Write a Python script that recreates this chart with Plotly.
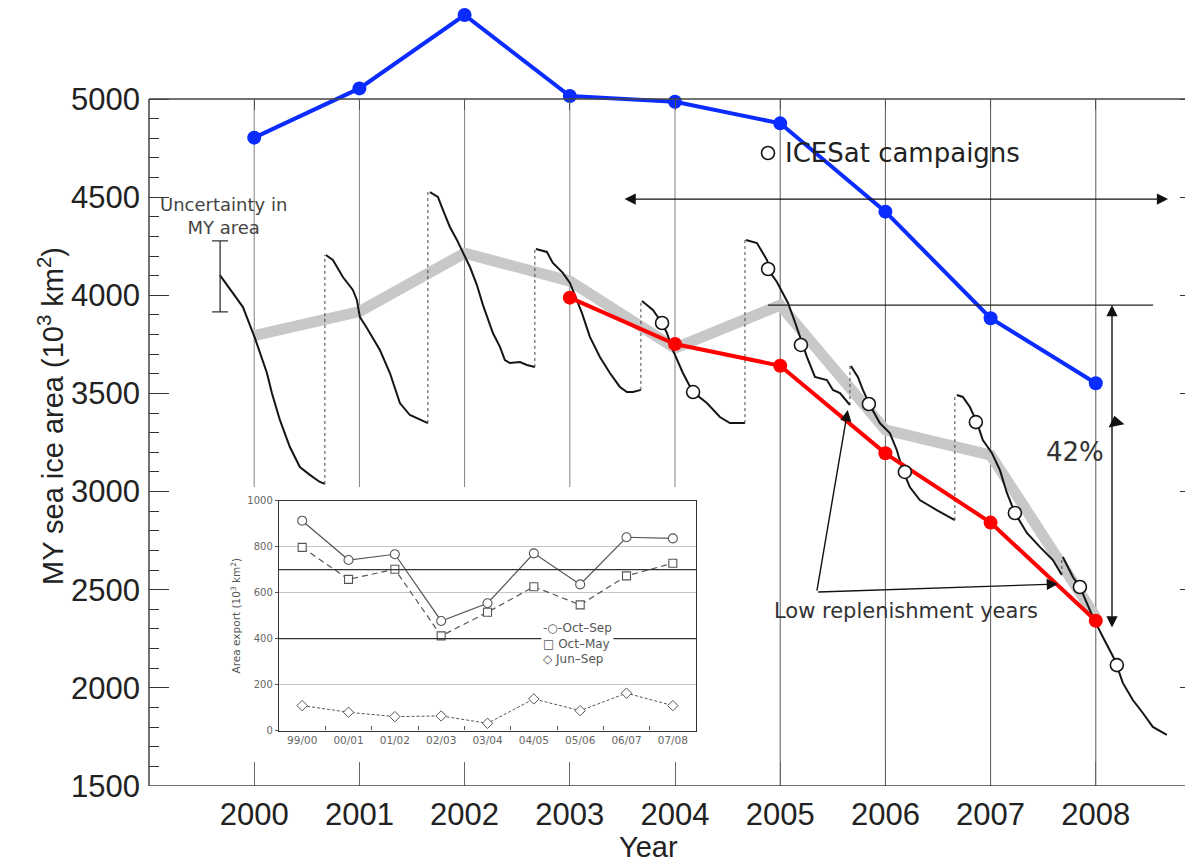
import plotly.graph_objects as go

# ---------------- data ----------------
years = [2000, 2001, 2002, 2003, 2004, 2005, 2006, 2007, 2008]
year_labels = [str(y) for y in years]

blue_area = [4803, 5054, 5428, 5015, 4986, 4876, 4426, 3883, 3552]
grey_area = [3795, 3917, 4215, 4072, 3731, 3950, 3314, 3186, 2361]
red_years = [2003, 2004, 2005, 2006, 2007, 2008]
red_area = [3988, 3752, 3641, 3195, 2842, 2342]

# seasonal MY area decline, one list per season (decimal year / 10^3 km^2)
season_dates = [
    [1999.674, 1999.798, 1999.893, 2000.007, 2000.121, 2000.168, 2000.244, 2000.339, 2000.434, 2000.529, 2000.624, 2000.672],
    [2000.681, 2000.748, 2000.843, 2000.938, 2000.976, 2001.005, 2001.071, 2001.195, 2001.290, 2001.385, 2001.480, 2001.575, 2001.651],
    [2001.670, 2001.746, 2001.794, 2001.860, 2001.927, 2001.984, 2002.051, 2002.117, 2002.174, 2002.269, 2002.336, 2002.383, 2002.431, 2002.526, 2002.592, 2002.668],
    [2002.678, 2002.782, 2002.839, 2002.934, 2003.001, 2003.067, 2003.115, 2003.191, 2003.286, 2003.381, 2003.476, 2003.543, 2003.600, 2003.676],
    [2003.686, 2003.790, 2003.876, 2003.923, 2003.980, 2004.075, 2004.170, 2004.303, 2004.427, 2004.522, 2004.665],
    [2004.674, 2004.779, 2004.874, 2004.922, 2004.969, 2005.074, 2005.140, 2005.207, 2005.254, 2005.330, 2005.444, 2005.501, 2005.568, 2005.663],
    [2005.672, 2005.738, 2005.786, 2005.852, 2005.947, 2006.042, 2006.108, 2006.165, 2006.232, 2006.327, 2006.488, 2006.660],
    [2006.679, 2006.736, 2006.803, 2006.869, 2006.926, 2007.012, 2007.088, 2007.155, 2007.231, 2007.345, 2007.468, 2007.592, 2007.677],
    [2007.687, 2007.782, 2007.849, 2007.972, 2008.067, 2008.181, 2008.257, 2008.352, 2008.447, 2008.542, 2008.675],
]
season_area = [
    [4103, 4012, 3940, 3782, 3604, 3502, 3365, 3227, 3125, 3085, 3049, 3039],
    [4205, 4180, 4093, 4027, 3976, 3889, 3833, 3721, 3604, 3451, 3390, 3365, 3349],
    [4526, 4501, 4435, 4348, 4282, 4215, 4144, 4052, 3951, 3808, 3737, 3670, 3655, 3660, 3645, 3635],
    [4236, 4221, 4165, 4114, 4063, 3976, 3910, 3788, 3686, 3604, 3533, 3507, 3507, 3518],
    [3971, 3925, 3859, 3808, 3721, 3604, 3507, 3451, 3380, 3349, 3349],
    [4282, 4266, 4180, 4103, 4068, 3961, 3864, 3757, 3686, 3584, 3568, 3518, 3502, 3441],
    [3640, 3584, 3518, 3441, 3349, 3298, 3212, 3110, 3023, 2957, 2906, 2855],
    [3492, 3482, 3431, 3354, 3263, 3197, 3110, 2993, 2891, 2789, 2718, 2651, 2575],
    [2667, 2565, 2514, 2361, 2259, 2142, 2025, 1938, 1872, 1801, 1760],
]

icesat_dates = [2003.877, 2004.172, 2004.885, 2005.197, 2005.843, 2006.185, 2006.860, 2007.231, 2007.849, 2008.200]
icesat_area = [3859, 3507, 4134, 3747, 3446, 3100, 3354, 2891, 2514, 2116]

uncert_date = 1999.676
uncert_center = 4096
uncert_half = 181

peak_area = 3950      # 2005 MY area reference level
low_area = 2300       # 2008 level used for the 42% drop

# inset: area export
export_seasons = ["99/00", "00/01", "01/02", "02/03", "03/04", "04/05", "05/06", "06/07", "07/08"]
export_oct_sep = [913, 742, 767, 477, 554, 771, 636, 841, 836]
export_oct_may = [797, 658, 702, 412, 515, 626, 547, 673, 728]
export_jun_sep = [109, 80, 61, 64, 32, 138, 87, 163, 109]

# ---------------- layout geometry ----------------
W, H = 1185, 864
ML, MB = 149, 78
X0 = 1999.0
X1 = 1999.0 + (W - ML) / 105.2
Y0, YTOP = 1500, 5000
Y1 = 5504.4
TOP_POS = (YTOP - Y0) / (Y1 - Y0)

AX_FONT = "Liberation Sans, Arial, sans-serif"
TXT_FONT = "DejaVu Sans, sans-serif"

fig = go.Figure()

# thick grey annual line
fig.add_trace(go.Scatter(x=years, y=grey_area, mode="lines",
                         line=dict(color="#c8c8c8", width=11), hoverinfo="skip"))

# seasonal curves and dotted season connectors
for i, (t, a) in enumerate(zip(season_dates, season_area)):
    fig.add_trace(go.Scatter(x=t, y=a, mode="lines",
                             line=dict(color="#151515", width=2), hoverinfo="skip"))
    if i + 1 < len(season_dates):
        fig.add_trace(go.Scatter(x=[t[-1], t[-1]], y=[a[-1], season_area[i + 1][0]],
                                 mode="lines", line=dict(color="#444", width=1, dash="dot"),
                                 hoverinfo="skip"))

# uncertainty bar
fig.add_trace(go.Scatter(x=[uncert_date], y=[uncert_center], mode="markers",
                         marker=dict(size=2, color="rgba(0,0,0,0)"),
                         error_y=dict(type="data", array=[uncert_half], symmetric=True,
                                      width=8, thickness=1.3, color="#333"),
                         hoverinfo="skip"))

# red and blue series
fig.add_trace(go.Scatter(x=red_years, y=red_area, mode="lines+markers",
                         line=dict(color="#ff0000", width=4),
                         marker=dict(color="#ff0000", size=14), hoverinfo="skip"))
fig.add_trace(go.Scatter(x=years, y=blue_area, mode="lines+markers",
                         line=dict(color="#0a2cff", width=4),
                         marker=dict(color="#0a2cff", size=14), hoverinfo="skip"))

# ICESat campaign markers
fig.add_trace(go.Scatter(x=icesat_dates, y=icesat_area, mode="markers",
                         marker=dict(symbol="circle", size=13, color="white",
                                     line=dict(color="#151515", width=1.6)),
                         hoverinfo="skip"))
fig.add_trace(go.Scatter(x=[2004.884], y=[4725], mode="markers",
                         marker=dict(symbol="circle", size=13, color="white",
                                     line=dict(color="#151515", width=1.6)),
                         hoverinfo="skip"))
# small arrowhead mark next to the 42% arrow
fig.add_trace(go.Scatter(x=[2008.19], y=[3352], mode="markers",
                         marker=dict(symbol="triangle-up", size=14, color="#111", angle=-12),
                         hoverinfo="skip"))

# axis helpers so the top and right tick rows render
fig.add_trace(go.Scatter(x=[None], y=[None], xaxis="x3", yaxis="y", hoverinfo="skip"))
fig.add_trace(go.Scatter(x=[None], y=[None], xaxis="x", yaxis="y3", hoverinfo="skip"))

# ---------------- inset traces ----------------
fig.add_trace(go.Scatter(x=export_seasons, y=export_oct_sep, xaxis="x2", yaxis="y2",
                         mode="lines+markers", line=dict(color="#555", width=1.2),
                         marker=dict(symbol="circle", size=9, color="white",
                                     line=dict(color="#555", width=1.1)),
                         hoverinfo="skip"))
fig.add_trace(go.Scatter(x=export_seasons, y=export_oct_may, xaxis="x2", yaxis="y2",
                         mode="lines+markers", line=dict(color="#555", width=1.2, dash="6px,4px"),
                         marker=dict(symbol="square", size=8, color="white",
                                     line=dict(color="#555", width=1.1)),
                         hoverinfo="skip"))
fig.add_trace(go.Scatter(x=export_seasons, y=export_jun_sep, xaxis="x2", yaxis="y2",
                         mode="lines+markers", line=dict(color="#555", width=1, dash="3px,2px"),
                         marker=dict(symbol="diamond", size=8, color="white",
                                     line=dict(color="#555", width=1)),
                         hoverinfo="skip"))

# ---------------- shapes ----------------
shapes = []
# vertical year lines
for y in years:
    bottom = 3023 if y <= 2004 else Y0
    shapes.append(dict(type="line", xref="x", yref="y", x0=y, x1=y, y0=bottom, y1=YTOP,
                       line=dict(color="#808080" if y <= 2004 else "#5a5a5a", width=1),
                       layer="below"))
# frame (open on the right, which lies past the page edge)
shapes.append(dict(type="line", xref="x domain", yref="y", x0=0, x1=1, y0=YTOP, y1=YTOP,
                   line=dict(color="#444", width=1.5)))
shapes.append(dict(type="line", xref="x domain", yref="y", x0=0, x1=1, y0=Y0, y1=Y0,
                   line=dict(color="#444", width=1.5)))
shapes.append(dict(type="line", xref="x domain", yref="y", x0=0, x1=0, y0=Y0, y1=YTOP,
                   line=dict(color="#444", width=1.5)))
# reference level from the 2005 peak
shapes.append(dict(type="line", xref="x", yref="y", x0=2004.884, x1=2008.545,
                   y0=peak_area, y1=peak_area, line=dict(color="#222", width=1.3)))
# inset reference lines
shapes.append(dict(type="line", xref="x2 domain", yref="y2", x0=0, x1=1, y0=700, y1=700,
                   line=dict(color="#333", width=1.3)))
shapes.append(dict(type="line", xref="x2 domain", yref="y2", x0=0, x1=1, y0=400, y1=400,
                   line=dict(color="#333", width=1.3)))

# ---------------- annotations ----------------
def arrow(xh, yh, xt, yt, both=False, size=1.6):
    return dict(x=xh, y=yh, ax=xt, ay=yt, xref="x", yref="y", axref="x", ayref="y",
                text="", showarrow=True, arrowhead=2, arrowsize=size, arrowwidth=1.4,
                arrowcolor="#111", arrowside="end+start" if both else "end", standoff=0,
                startstandoff=0)

annotations = [
    arrow(2008.687, 4490, 2003.506, 4490, both=True),
    arrow(2008.154, peak_area, 2008.154, low_area, both=True),
    arrow(2005.642, 3416, 2005.347, 2488),
    arrow(2007.640, 2529, 2005.347, 2488),
    dict(x=2005.027, y=4725, xref="x", yref="y", xanchor="left", yanchor="middle",
         text="ICESat campaigns", showarrow=False,
         font=dict(family=TXT_FONT, size=26, color="#222")),
    dict(x=2007.803, y=3202, xref="x", yref="y", text="42%", showarrow=False,
         font=dict(family=TXT_FONT, size=26, color="#333")),
    dict(x=2006.195, y=2392, xref="x", yref="y", text="Low replenishment years",
         showarrow=False, font=dict(family=TXT_FONT, size=21, color="#333")),
    dict(x=1999.704, y=4404, xref="x", yref="y", text="Uncertainty in<br>MY area",
         showarrow=False, align="center",
         font=dict(family=TXT_FONT, size=18, color="#444")),
    dict(x=-0.1139, y=0.4707, xref="paper", yref="paper", textangle=-90,
         text="MY sea ice area (10<sup>3</sup> km<sup>2</sup>)", showarrow=False,
         font=dict(family=AX_FONT, size=29, color="#222")),
    dict(x=0.4826, y=-0.077, xref="paper", yref="paper", text="Year", showarrow=False,
         yanchor="middle", font=dict(family=AX_FONT, size=29, color="#222")),
    dict(x=0.628, y=381, xref="x2 domain", yref="y2", xanchor="left", yanchor="middle",
         align="left", showarrow=False, bgcolor="white", borderpad=1,
         text="-○-Oct–Sep<br>□ Oct–May<br>◇ Jun–Sep",
         font=dict(family=TXT_FONT, size=12, color="#555")),
]

major_y = list(range(1500, 5001, 500))
minor_y = [v for v in range(1600, 5000, 100) if v % 500 != 0]

fig.update_layout(
    width=W, height=H, autosize=False,
    margin=dict(l=ML, r=0, t=0, b=MB, pad=0),
    paper_bgcolor="white", plot_bgcolor="white",
    showlegend=False,
    shapes=shapes, annotations=annotations,
    xaxis=dict(range=[X0, X1], tickmode="array", tickvals=years, ticktext=year_labels,
               ticks="inside", ticklen=24, tickwidth=1, tickcolor="#666",
               showgrid=False, zeroline=False, showline=False, automargin=False,
               tickfont=dict(family=AX_FONT, size=31, color="#222"),
               ticklabelstandoff=7, domain=[0, 1]),
    yaxis=dict(range=[Y0, Y1], tickmode="array", tickvals=major_y,
               ticktext=[str(v) for v in major_y],
               ticks="inside", ticklen=20, tickwidth=1.2, tickcolor="#333",
               minor=dict(tickmode="array", tickvals=minor_y, ticks="inside",
                          ticklen=10, tickwidth=1.2, tickcolor="#333", showgrid=False),
               showgrid=False, zeroline=False, showline=False, automargin=False,
               tickfont=dict(family=AX_FONT, size=31, color="#222"),
               ticklabelstandoff=8, domain=[0, 1]),
    xaxis3=dict(overlaying="x", anchor="free", position=TOP_POS, side="top",
                range=[X0, X1], tickmode="array", tickvals=years, ticks="inside",
                ticklen=10, tickwidth=1, tickcolor="#555", showticklabels=False,
                showgrid=False, zeroline=False, showline=False),
    yaxis3=dict(overlaying="y", anchor="free", position=1, side="right",
                range=[Y0, Y1], tickmode="array", tickvals=major_y, ticks="inside",
                ticklen=5, tickwidth=1.2, tickcolor="#333", showticklabels=False,
                showgrid=False, zeroline=False, showline=False),
    xaxis2=dict(domain=[0.1255, 0.528], anchor="y2", type="category",
                categoryorder="array", categoryarray=export_seasons,
                range=[-0.5, 8.5], tickson="boundaries", ticks="inside", ticklen=4,
                tickcolor="#555", showline=True, mirror=True, linecolor="#333",
                linewidth=1.4, showgrid=False, zeroline=False, automargin=False,
                tickfont=dict(family=TXT_FONT, size=10.5, color="#666")),
    yaxis2=dict(domain=[0.0704, 0.363], anchor="x2", range=[0, 1000],
                tickmode="array", tickvals=[0, 200, 400, 600, 800, 1000],
                ticks="outside", ticklen=3, tickcolor="#555",
                showline=True, mirror=True, linecolor="#333", linewidth=1.4,
                showgrid=True, gridcolor="#c4c4c4", gridwidth=1, zeroline=False,
                automargin=False,
                tickfont=dict(family=TXT_FONT, size=10, color="#666"),
                title=dict(text="Area export (10<sup>3</sup> km<sup>2</sup>)", standoff=4,
                           font=dict(family=TXT_FONT, size=10.5, color="#555"))),
)

fig.write_html("out.html")
